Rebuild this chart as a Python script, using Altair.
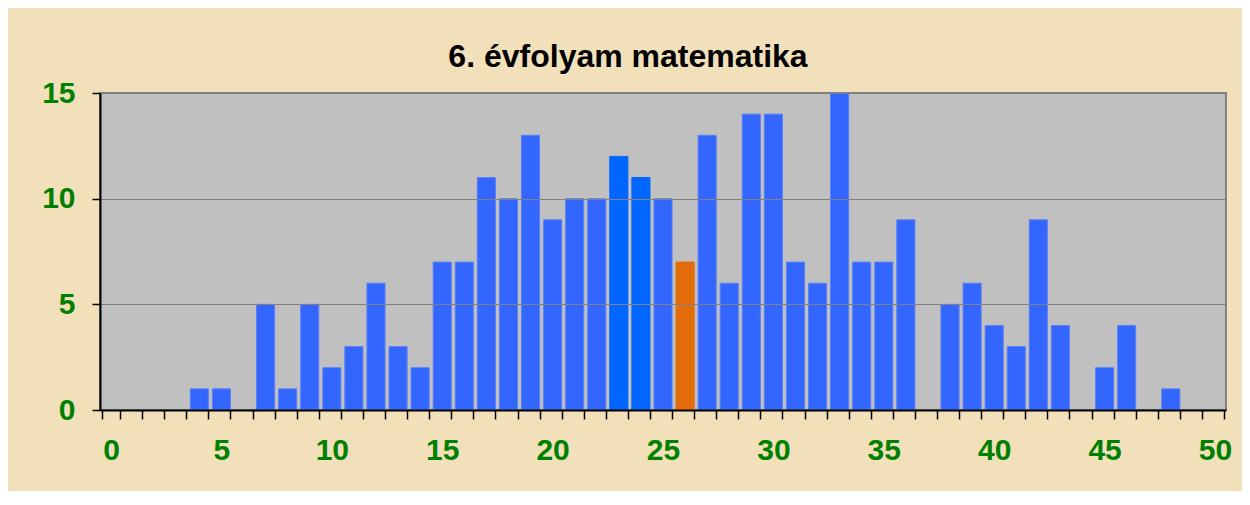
import altair as alt
import pandas as pd

# Data
scores = list(range(0, 51))
counts = [0, 0, 0, 0, 1, 1, 0, 5, 1, 5,
          2, 3, 6, 3, 2, 7, 7, 11, 10, 13,
          9, 10, 10, 12, 11, 10, 7, 13, 6, 14,
          14, 7, 6, 15, 7, 7, 9, 0, 5, 6,
          4, 3, 9, 4, 0, 2, 4, 0, 1, 0, 0]
highlight_scores = [23, 24]
own_score = [26]

groups = ["own" if s in own_score else ("highlight" if s in highlight_scores else "normal")
          for s in scores]

df = pd.DataFrame({"score": scores, "count": counts, "group": groups})

FONT = "Liberation Sans"
GREEN = "#008000"

chart = alt.Chart(df).transform_filter(
    "datum.count > 0"
).mark_bar(strokeWidth=1).encode(
    x=alt.X(
        "score:O",
        scale=alt.Scale(domain=scores, paddingInner=0.18, paddingOuter=0.09),
        axis=alt.Axis(
            title=None,
            labelAngle=0,
            labelExpr="datum.value % 5 == 0 ? datum.label : ''",
            tickBand="extent",
            ticks=True,
            tickSize=9,
            tickColor="#000000",
            tickWidth=1.5,
            domainColor="#000000",
            domainWidth=2,
            labelPadding=16,
            labelFont=FONT,
            labelFontSize=30,
            labelFontWeight="bold",
            labelColor=GREEN,
            grid=False,
            zindex=1,
        ),
    ),
    y=alt.Y(
        "count:Q",
        scale=alt.Scale(domain=[0, 15], nice=False),
        axis=alt.Axis(
            title=None,
            values=[0, 5, 10, 15],
            tickSize=8,
            tickColor="#000000",
            tickWidth=1.5,
            domainColor="#000000",
            domainWidth=2,
            labelPadding=17,
            labelFont=FONT,
            labelFontSize=30,
            labelFontWeight="bold",
            labelColor=GREEN,
            grid=True,
            gridColor="#808080",
            gridWidth=1,
            zindex=1,
        ),
    ),
    fill=alt.Fill(
        "group:N",
        scale=alt.Scale(domain=["normal", "highlight", "own"],
                        range=["#3366FF", "#0066FF", "#E46C0A"]),
        legend=None,
    ),
    stroke=alt.Stroke(
        "group:N",
        scale=alt.Scale(domain=["normal", "highlight", "own"],
                        range=["#5A80F5", "#0066FF", "#E46C0A"]),
        legend=None,
    ),
).properties(
    width=1126,
    height=317,
    title=alt.TitleParams(
        "6. évfolyam matematika",
        font=FONT,
        fontSize=32,
        fontWeight="bold",
        color="#000000",
        anchor="middle",
        dx=-35,
        dy=47,
        offset=19,
        baseline="bottom",
    ),
    background="#F1E0B9",
    padding={"left": 92, "top": 85, "right": 16, "bottom": 81},
    autosize=alt.AutoSizeParams(type="none"),
).configure_view(
    fill="#C0C0C0",
    stroke="#808080",
    strokeWidth=2,
)

chart.save("out.html", embed_options={"renderer": "svg", "actions": False})
